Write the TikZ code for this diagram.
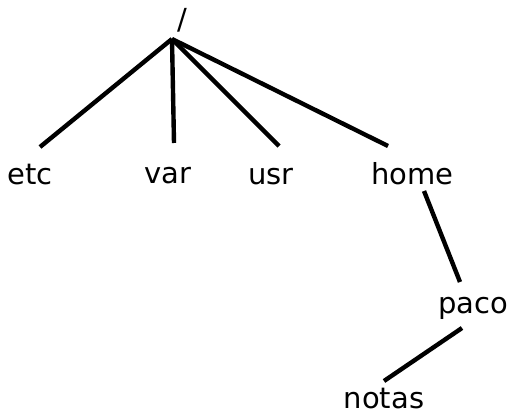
\documentclass[tikz,border=0pt]{standalone}
\usepackage{fontspec}
\setmainfont{DejaVu Sans}
\begin{document}
\begin{tikzpicture}[x=1pt,y=-1pt]
		\tikzset{dir/.style = {anchor=base, inner sep=0pt, font=\fontsize{29}{35}\selectfont}}
		\tikzset{branch/.style = {line width=4.4pt}}

		\useasboundingbox (0,0) rectangle (511,414);

		\node[dir] (root) at (182.5,29.5) {/};
		\node[dir] (etc) at (30,185) {etc};
		\node[dir] (var) at (168,184) {var};
		\node[dir] (usr) at (271,185) {usr};
		\node[dir] (home) at (412.5,185) {home};
		\node[dir] (paco) at (473,313) {paco};
		\node[dir] (notas) at (384,408.5) {notas};

		\coordinate (root_d) at (172,39);
		\coordinate (etc_u) at (40,147);
		\coordinate (var_u) at (174,143);
		\coordinate (usr_u) at (279,146);
		\coordinate (home_u) at (388,146);
		\coordinate (home_d) at (424,191);
		\coordinate (paco_u) at (460,282);
		\coordinate (paco_d) at (462,328);
		\coordinate (notas_u) at (384,381);



		\draw[branch] (root_d)--(etc_u);
		\draw[branch] (root_d)--(var_u);
		\draw[branch] (root_d)--(usr_u);
		\draw[branch] (root_d)--(home_u);

		\draw[branch] (home_d)--(paco_u);
		\draw[branch] (paco_d)--(notas_u);

	\end{tikzpicture}
\end{document}
